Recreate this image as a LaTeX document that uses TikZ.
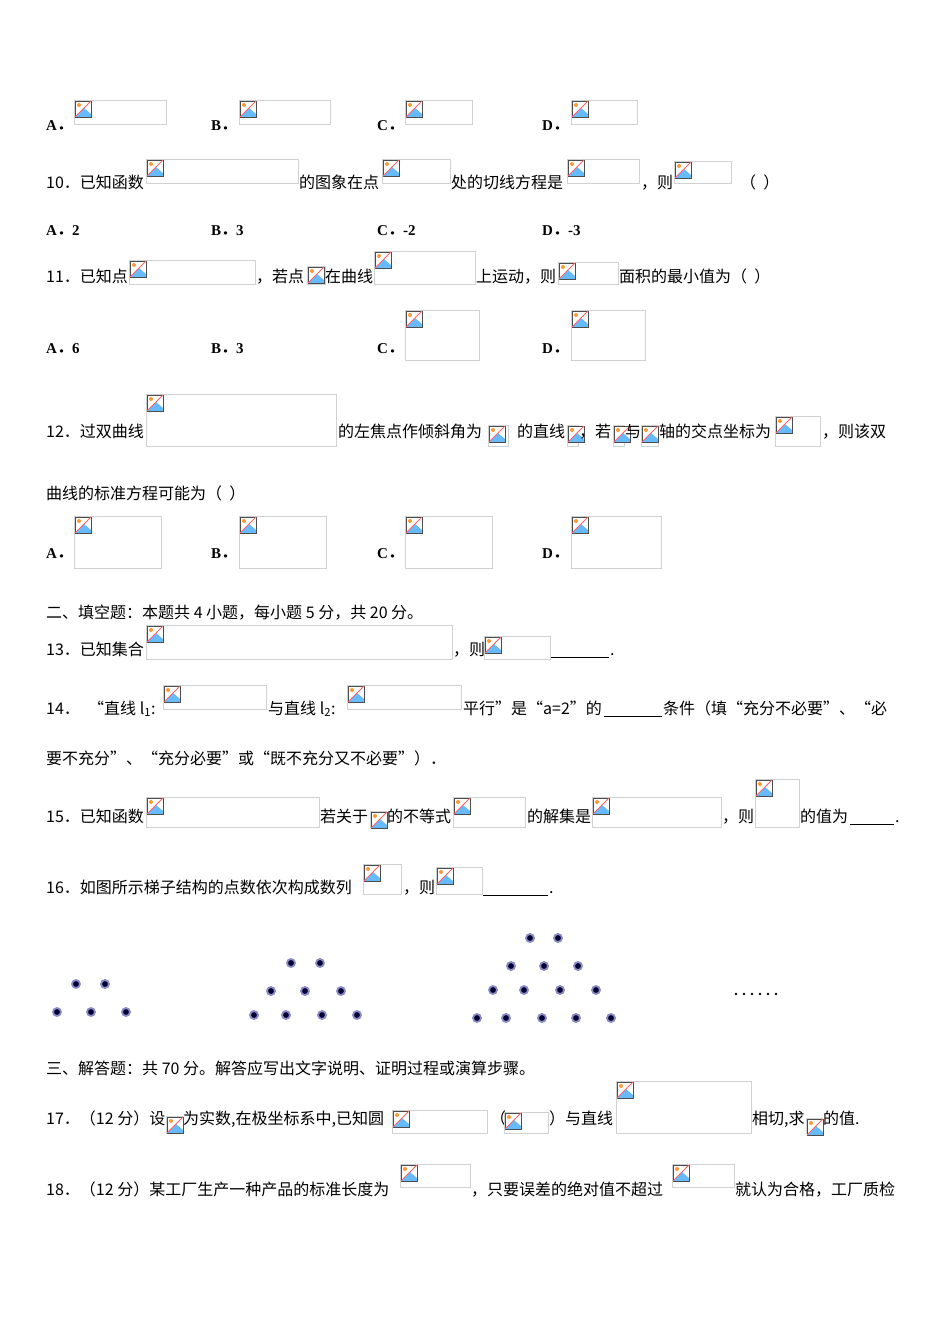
\documentclass[tikz,border=0pt]{standalone}
\usepackage{fontspec}
\setmainfont{Liberation Serif}
\newfontfamily\cjk{Noto Sans CJK SC}
\begin{document}
\begin{tikzpicture}[x=1pt,y=-1pt,
  txt/.style={anchor=base west,inner sep=0pt,font=\fontsize{16}{18}\selectfont\cjk},
  lab/.style={anchor=base west,inner sep=0pt,font=\fontsize{15}{18}\selectfont\bfseries},
  phbox/.style={draw=black!18,line width=0.8pt},
  dotc/.style={circle,fill=black!80!blue,draw=blue!50!black!45,line width=1.8pt,inner sep=0pt,minimum size=8pt}]
\useasboundingbox (0,0) rectangle (950,1344);
\newcommand{\mytx}[3]{\node[txt] at (#1,#2) {#3};}
\newcommand{\mylb}[4]{\node[lab] at (#1,#2) {#3{\cjk．}#4};}
\newcommand{\ph}[4]{%
  \draw[phbox] (#1,#2) rectangle (#3,#4);
  \begin{scope}[shift={(#1+1,#2+1)}]
    \fill[white] (0,0) rectangle (16,16);
    \fill[blue!45!cyan!60] (0,16) -- (9,7) -- (16,13) -- (16,16) -- cycle;
    \fill[orange!80] (4,4) circle (2);
    \draw[black!70,line width=0.7pt] (0,0) rectangle (16,16);
    \draw[red!60,line width=1pt] (0,16) -- (16,0);
  \end{scope}}
% options row
\mylb{46}{130}{A}{}\ph{74}{100}{166}{124}
\mylb{211}{130}{B}{}\ph{239}{100}{330}{124}
\mylb{377}{130}{C}{}\ph{405}{100}{472}{124}
\mylb{542}{130}{D}{}\ph{571}{100}{637}{124}
% 10
\mytx{46}{188}{10．已知函数}\ph{146}{159}{298}{183}
\mytx{299}{188}{的图象在点}\ph{382}{159}{450}{183}
\mytx{451}{188}{处的切线方程是}\ph{567}{159}{639}{183}
\mytx{641}{188}{，则}\ph{674}{161}{731}{183}
\mytx{740}{188}{（\ \ ）}
\mylb{46}{235}{A}{2}\mylb{211}{235}{B}{3}\mylb{377}{235}{C}{-2}\mylb{542}{235}{D}{-3}
% 11
\mytx{46}{282}{11．已知点}\ph{129}{260}{255}{284}
\mytx{256}{282}{，若点}\ph{307}{266}{325}{284}
\mytx{325}{282}{在曲线}\ph{374}{251}{475}{284}
\mytx{476}{282}{上运动，则}\ph{558}{262}{618}{284}
\mytx{619}{282}{面积的最小值为（\ \ ）}
\mylb{46}{353}{A}{6}\mylb{211}{353}{B}{3}
\mylb{377}{353}{C}{}\ph{405}{310}{479}{360}
\mylb{542}{353}{D}{}\ph{571}{310}{645}{360}
% 12
\mytx{46}{437}{12．过双曲线}\ph{146}{394}{336}{446}
\mytx{338}{437}{的左焦点作倾斜角为}\ph{488}{425}{508}{446}
\mytx{517}{437}{的直线}\ph{567}{425}{578}{446}
\mytx{579}{437}{，若}\ph{613}{425}{624}{446}
\mytx{625}{437}{与}\ph{641}{425}{658}{446}
\mytx{659}{437}{轴的交点坐标为}\ph{775}{416}{820}{446}
\mytx{822}{437}{，则该双}
\mytx{46}{499}{曲线的标准方程可能为（\ \ ）}
\mylb{46}{558}{A}{}\ph{74}{516}{161}{568}
\mylb{211}{558}{B}{}\ph{239}{516}{326}{568}
\mylb{377}{558}{C}{}\ph{405}{516}{492}{568}
\mylb{542}{558}{D}{}\ph{571}{516}{661}{568}
% section 2
\mytx{46}{618}{二、填空题：本题共 4 小题，每小题 5 分，共 20 分。}
\mytx{46}{655}{13．已知集合}\ph{146}{625}{452}{659}
\mytx{453}{655}{，则}\ph{484}{636}{550}{659}
\draw (551,657) -- (609,657); \mytx{610}{655}{.}
\mytx{46}{714}{14．}\mytx{88}{714}{“直线 \textit{l}\textsubscript{1}:}\ph{163}{685}{266}{709}
\mytx{268}{714}{与直线 \textit{l}\textsubscript{2}:}\ph{347}{685}{461}{709}
\mytx{463}{714}{平行”是“\textit{a}=2”的}\draw (604,716) -- (662,716);
\mytx{663}{714}{条件（填“充分不必要”、“必}
\mytx{46}{764}{要不充分”、“充分必要”或“既不充分又不必要”）．}
\mytx{46}{822}{15．已知函数}\ph{146}{797}{319}{827}
\mytx{320}{822}{若关于}\ph{370}{811}{386}{827}
\mytx{387}{822}{的不等式}\ph{453}{797}{525}{827}
\mytx{527}{822}{的解集是}\ph{592}{797}{721}{827}
\mytx{722}{822}{，则}\ph{755}{779}{799}{827}
\mytx{800}{822}{的值为}\draw (850,824) -- (894,824);\mytx{895}{822}{.}
\mytx{46}{893}{16．如图所示梯子结构的点数依次构成数列}\ph{363}{864}{401}{894}
\mytx{403}{893}{，则}\ph{436}{867}{482}{894}
\draw (483,895) -- (548,895);\mytx{549}{893}{.}
% dots
\foreach \p in {(76,984),(105,984),(57,1012),(91,1012),(126,1012),
  (291,963),(320,963),(271,991),(305,991),(341,991),(254,1015),(286,1015),(322,1015),(357,1015),
  (530,938),(558,938),(511,966),(544,966),(578,966),(493,990),(524,990),(560,990),(596,990),
  (477,1018),(506,1018),(542,1018),(576,1018),(611,1018)}
  \node[dotc] at \p {};
\foreach \x in {736,744,752,760,768,776} \fill (\x,994) circle (1.3);
% section 3
\mytx{46}{1074}{三、解答题：共 70 分。解答应写出文字说明、证明过程或演算步骤。}
\mytx{46}{1124}{17．（12 分）设}\ph{166}{1116}{182}{1133}
\mytx{183}{1124}{为实数,在极坐标系中,已知圆}\ph{392}{1110}{487}{1133}
\mytx{490}{1124}{（}\ph{504}{1112}{548}{1133}
\mytx{549}{1124}{）与直线}\ph{616}{1081}{751}{1133}
\mytx{752}{1124}{相切,求}\ph{806}{1118}{822}{1133}
\mytx{823}{1124}{的值.}
\mytx{46}{1195}{18．（12 分）某工厂生产一种产品的标准长度为}\ph{400}{1164}{470}{1187}
\mytx{471}{1195}{，只要误差的绝对值不超过}\ph{672}{1164}{734}{1187}
\mytx{735}{1195}{就认为合格，工厂质检}
\end{tikzpicture}
\end{document}
